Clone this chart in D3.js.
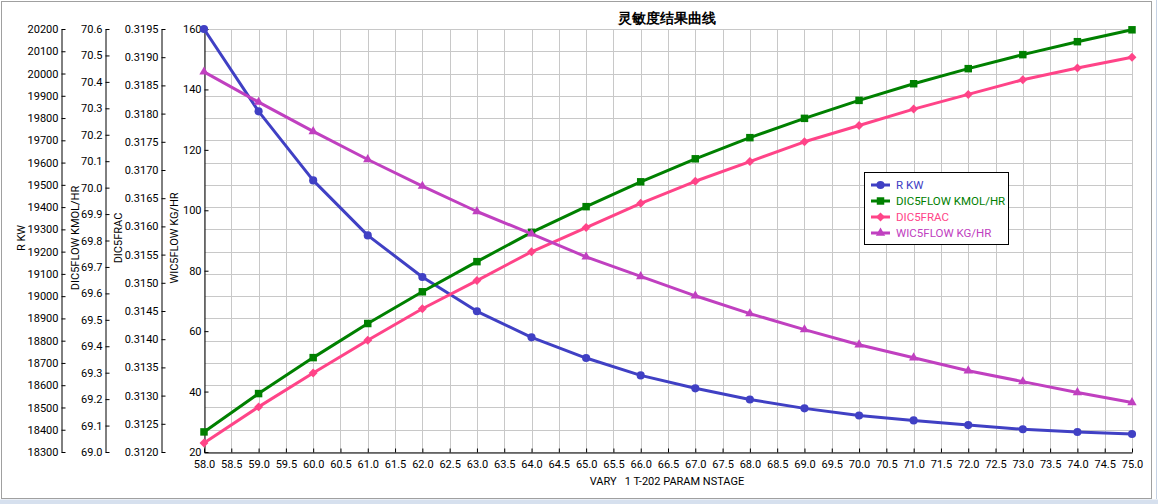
<!DOCTYPE html>
<html><head><meta charset="utf-8">
<script src="https://cdn.jsdelivr.net/npm/d3@7"></script>
<style>
html,body{margin:0;padding:0;background:#fff;}
svg{display:block;}
text{font-family:Roboto,"Noto Sans",sans-serif;}
</style></head>
<body><svg id="c" width="1158" height="504"></svg>
<script>
// ---- data ----
const xValues = [58,59,60,61,62,63,64,65,66,67,68,69,70,71,72,73,74,75];
const rKW = [20200,19830,19520,19273,19086,18932,18815,18722,18644,18586,18536,18496,18464,18442,18421,18402,18390,18381];
const dic5Flow = [69.076,69.221,69.357,69.486,69.606,69.720,69.831,69.928,70.022,70.109,70.189,70.262,70.330,70.393,70.450,70.503,70.552,70.597];
const dic5Frac = [0.31216,0.31280,0.31340,0.31398,0.31454,0.31504,0.31555,0.31598,0.31641,0.31680,0.31715,0.31750,0.31779,0.31808,0.31834,0.31860,0.31881,0.31900];
const wic5Flow = [145.8,135.8,126.1,116.8,108.0,99.6,92.2,84.6,78.1,71.7,65.8,60.5,55.5,51.2,46.9,43.3,39.7,36.4];

const xTicks = [58.0,58.5,59.0,59.5,60.0,60.5,61.0,61.5,62.0,62.5,63.0,63.5,64.0,64.5,65.0,65.5,66.0,66.5,67.0,67.5,68.0,68.5,69.0,69.5,70.0,70.5,71.0,71.5,72.0,72.5,73.0,73.5,74.0,74.5,75.0];
const rKWTicks = [18300,18400,18500,18600,18700,18800,18900,19000,19100,19200,19300,19400,19500,19600,19700,19800,19900,20000,20100,20200];
const flowTicks = [69.0,69.1,69.2,69.3,69.4,69.5,69.6,69.7,69.8,69.9,70.0,70.1,70.2,70.3,70.4,70.5,70.6];
const fracTicks = [0.3120,0.3125,0.3130,0.3135,0.3140,0.3145,0.3150,0.3155,0.3160,0.3165,0.3170,0.3175,0.3180,0.3185,0.3190,0.3195];
const wicTicks = [20,40,60,80,100,120,140,160];

const seriesNames = ["R KW","DIC5FLOW KMOL/HR","DIC5FRAC","WIC5FLOW KG/HR"];
const axisTitles = ["R KW","DIC5FLOW KMOL/HR","DIC5FRAC","WIC5FLOW KG/HR"];
const chartTitle = "灵敏度结果曲线";
const xTitle = "VARY   1 T-202 PARAM NSTAGE";

(function(){
const svg = d3.select("#c");
const pTop = 29, pBottom = 452, pLeft = 204, pRight = 1132;

// frame
svg.append("rect").attr("x",1.5).attr("y",1.5).attr("width",1150).attr("height",497)
  .attr("fill","#fff").attr("stroke","#a0a0a0");
svg.append("rect").attr("x",0).attr("y",499.5).attr("width",1158).attr("height",5).attr("fill","#d6e0ee");
svg.append("line").attr("x1",1156.5).attr("x2",1156.5).attr("y1",0).attr("y2",499).attr("stroke","#c6d2e4");

const x = d3.scaleLinear().domain([58,75]).range([pLeft,pRight]);
const yR = d3.scaleLinear().domain([18300,20200]).range([pBottom,pTop]);
const yF = d3.scaleLinear().domain([69.0,70.6]).range([pBottom,pTop]);
const yQ = d3.scaleLinear().domain([0.3120,0.3195]).range([pBottom,pTop]);
const yW = d3.scaleLinear().domain([20,160]).range([pBottom,pTop]);

// grid
const g = svg.append("g");
g.selectAll(".vg").data(xTicks).join("line")
  .attr("x1",d=>Math.round(x(d))+0.5).attr("x2",d=>Math.round(x(d))+0.5)
  .attr("y1",pTop).attr("y2",pBottom).attr("stroke","#c8c8c8");
g.selectAll(".hg").data(rKWTicks).join("line")
  .attr("x1",pLeft).attr("x2",pRight)
  .attr("y1",d=>Math.round(yR(d))+0.5).attr("y2",d=>Math.round(yR(d))+0.5).attr("stroke","#c8c8c8");

// y axes
const axes = [
  {scale:yR, ticks:rKWTicks, fmt:d3.format("d"), x:61, tx:21},
  {scale:yF, ticks:flowTicks, fmt:d3.format(".1f"), x:105, tx:75},
  {scale:yQ, ticks:fracTicks, fmt:d3.format(".4f"), x:161, tx:118},
  {scale:yW, ticks:wicTicks, fmt:d3.format("d"), x:204, tx:174}
];
axes.forEach((a,i)=>{
  const ag = svg.append("g").attr("transform",`translate(${a.x+0.5},0)`)
    .call(d3.axisLeft(a.scale).tickValues(a.ticks).tickFormat(a.fmt)
      .tickSizeInner(-4).tickSizeOuter(0).tickPadding(3));
  ag.select(".domain").attr("stroke","#000");
  ag.selectAll(".tick line").attr("stroke","#000");
  ag.selectAll("text").attr("font-size",11).attr("fill","#000")
    .attr("font-family","Roboto,'Noto Sans',sans-serif");
  svg.append("text").attr("transform",`translate(${a.tx},238) rotate(-90)`)
    .attr("text-anchor","middle").attr("dy","0.35em").attr("font-size",11)
    .attr("fill","#000").text(axisTitles[i]);
});

// x axis
const xg = svg.append("g").attr("transform",`translate(0,${pBottom+0.5})`)
  .call(d3.axisBottom(x).tickValues(xTicks).tickFormat(d3.format(".1f"))
    .tickSizeInner(-4).tickSizeOuter(0).tickPadding(8));
xg.select(".domain").attr("stroke","#000");
xg.selectAll(".tick line").attr("stroke","#000");
xg.selectAll("text").attr("font-size",11).attr("fill","#000")
  .attr("font-family","Roboto,'Noto Sans',sans-serif");

svg.append("text").attr("x",667).attr("y",481).attr("dy","0.35em")
  .attr("text-anchor","middle").attr("font-size",11).attr("fill","#000")
  .attr("xml:space","preserve").style("white-space","pre").text(xTitle);

svg.append("text").attr("x",667).attr("y",18).attr("dy","0.36em")
  .attr("text-anchor","middle").attr("font-size",14).attr("font-weight","bold")
  .attr("font-family","'Noto Sans CJK SC',sans-serif").attr("fill","#000").text(chartTitle);

// series
const diamond = {draw(ctx,size){const r=Math.sqrt(size)/2*1.1; ctx.moveTo(0,-r);ctx.lineTo(r,0);ctx.lineTo(0,r);ctx.lineTo(-r,0);ctx.closePath();}};
const series = [
  {vals:rKW, y:yR, color:"#4040c4", sym:d3.symbolCircle, size:52},
  {vals:dic5Flow, y:yF, color:"#008000", sym:d3.symbolSquare, size:56},
  {vals:dic5Frac, y:yQ, color:"#ff4488", sym:diamond, size:66},
  {vals:wic5Flow, y:yW, color:"#c040c0", sym:d3.symbolTriangle, size:38}
];
series.forEach(s=>{
  const pts = xValues.map((xv,i)=>[x(xv), s.y(s.vals[i])]);
  svg.append("path").attr("d",d3.line()(pts)).attr("fill","none")
    .attr("stroke",s.color).attr("stroke-width",3).attr("stroke-linejoin","round");
  svg.append("g").selectAll("path").data(pts).join("path")
    .attr("transform",d=>`translate(${d[0]},${d[1]})`)
    .attr("d",d3.symbol(s.sym,s.size)).attr("fill",s.color);
});

// legend
const lg = svg.append("g");
lg.append("rect").attr("x",864.5).attr("y",172.5).attr("width",144).attr("height",72)
  .attr("fill","#fff").attr("stroke","#000");
series.forEach((s,i)=>{
  const cy = 185 + i*16;
  lg.append("line").attr("x1",871).attr("x2",890).attr("y1",cy).attr("y2",cy)
    .attr("stroke",s.color).attr("stroke-width",3);
  lg.append("path").attr("transform",`translate(880.5,${cy})`)
    .attr("d",d3.symbol(s.sym,s.size)).attr("fill",s.color);
  lg.append("text").attr("x",896).attr("y",cy).attr("dy","0.35em")
    .attr("font-size",11.5).attr("fill",s.color).text(seriesNames[i]);
});
})();
</script></body></html>
